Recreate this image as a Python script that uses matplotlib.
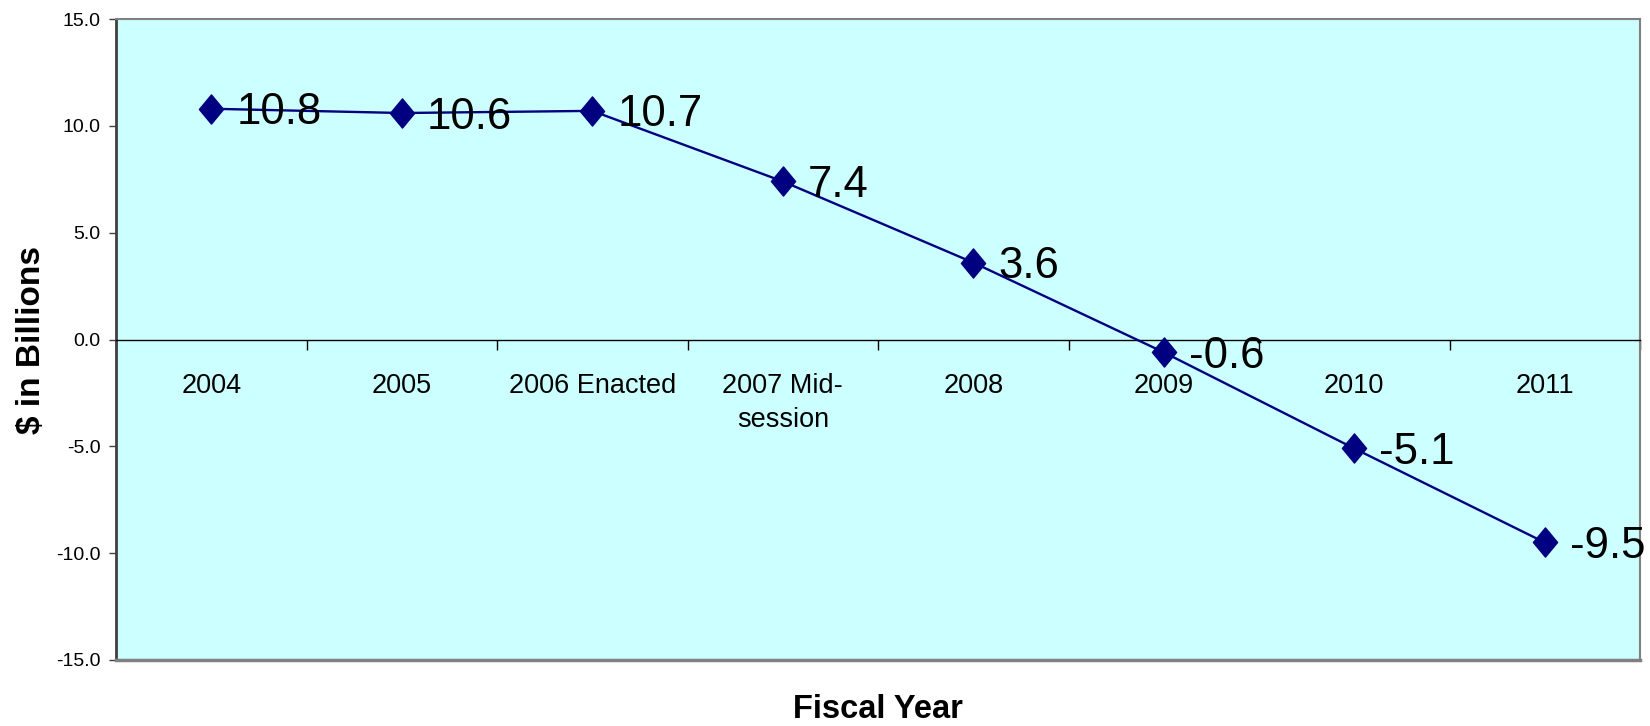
import matplotlib
matplotlib.use("Agg")
import matplotlib.pyplot as plt
from matplotlib.path import Path

plt.rcParams['font.family'] = ['Liberation Sans', 'DejaVu Sans']
plt.rcParams['axes.unicode_minus'] = False

# data
categories = ["2004", "2005", "2006 Enacted", "2007 Mid-\nsession", "2008", "2009", "2010", "2011"]
values = [10.8, 10.6, 10.7, 7.4, 3.6, -0.6, -5.1, -9.5]
yticks = [-15.0, -10.0, -5.0, 0.0, 5.0, 10.0, 15.0]

navy = "#000080"
diamond = Path([(0, 1), (0.83, 0), (0, -1), (-0.83, 0), (0, 1)],
               [Path.MOVETO, Path.LINETO, Path.LINETO, Path.LINETO, Path.CLOSEPOLY])

fig = plt.figure(figsize=(16.5, 7.26), dpi=100)
ax = fig.add_axes([116/1650, 1 - 660/726, (1640-116)/1650, (660-19)/726])
ax.set_facecolor("#CCFFFF")

x = list(range(len(categories)))
ax.plot(x, values, color=navy, lw=1.7, marker=diamond, markersize=21,
        markerfacecolor=navy, markeredgecolor=navy, zorder=3)

# data labels
for i, v in zip(x, values):
    ax.annotate(f"{v:.1f}", (i, v), xytext=(25, -4), textcoords="offset pixels",
                ha="left", va="center", fontsize=31.5, color="black", zorder=4)

ax.set_xlim(-0.5, len(categories) - 0.5)
ax.set_ylim(-15, 15)
ax.set_yticks(yticks)
ax.set_yticklabels([f"{t:.1f}" for t in yticks], fontsize=14)
ax.tick_params(axis="y", length=5, width=1, color="#404040", pad=6)

# category axis sits on the zero line
ax.spines["bottom"].set_position(("data", 0))
ax.spines["bottom"].set_color("black")
ax.spines["bottom"].set_linewidth(1)
ax.set_xticks([b + 0.5 for b in range(-1, len(categories))])
ax.set_xticklabels([])
ax.set_xticks(x, minor=True)
ax.set_xticklabels(categories, minor=True, fontsize=19.5, linespacing=1.4)
ax.tick_params(axis="x", which="major", length=7, width=1, direction="out", color="black")
ax.tick_params(axis="x", which="minor", length=0, pad=24)

ax.spines["left"].set_color("#404040")
ax.spines["left"].set_linewidth(2)
for s in ["top", "right"]:
    ax.spines[s].set_color("#808080")
    ax.spines[s].set_linewidth(1.5)
ax.axhline(-15, color="#808080", lw=2.5, clip_on=False, zorder=5)

fig.text(32/1650, 1 - 340/726, "$ in Billions", rotation=90, ha="center", va="center",
         fontsize=24, fontweight="bold")
fig.text(878/1650, 1 - 709/726, "Fiscal Year", ha="center", va="center",
         fontsize=23.5, fontweight="bold")

fig.savefig("out.png", dpi=100, facecolor="white")
